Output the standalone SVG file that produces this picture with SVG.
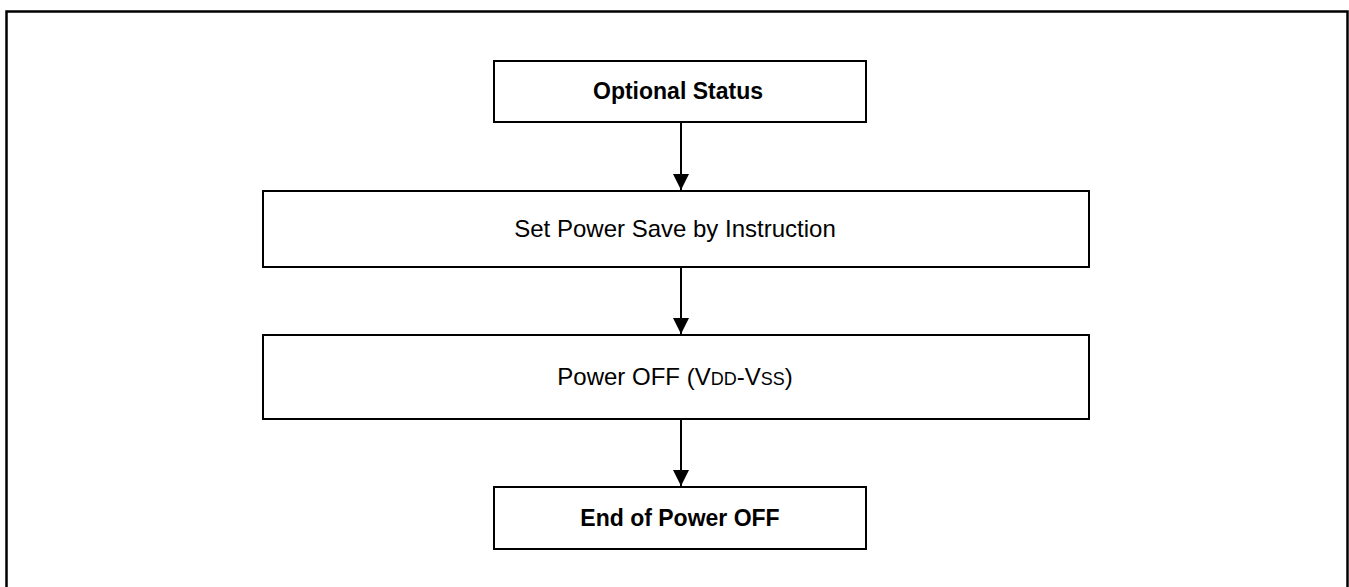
<svg xmlns="http://www.w3.org/2000/svg" width="1349" height="587" viewBox="0 0 1349 587">
<defs>
<style>
.box{fill:#fff;stroke:#000;stroke-width:2}
.t{font-family:"Liberation Sans",Arial,sans-serif;font-size:24px;fill:#000;text-anchor:middle}
.b{font-weight:bold;font-size:23px}
.s{font-size:18px}
.c{stroke:#000;stroke-width:2;fill:none}
</style>
<marker id="ah" markerWidth="16" markerHeight="16" viewBox="0 0 16 16" refX="16" refY="8" orient="auto" markerUnits="userSpaceOnUse">
<path d="M0,0 L16,8 L0,16 Z" fill="#000"/>
</marker>
</defs>
<rect x="0" y="0" width="1349" height="587" fill="#fff"/>
<rect x="6.5" y="11.5" width="1341" height="600" fill="none" stroke="#000" stroke-width="2.5"/>
<g id="n1">
<rect class="box" x="494" y="61" width="372" height="61"/>
<text class="t b" x="678" y="99">Optional Status</text>
</g>
<g id="n2">
<rect class="box" x="263" y="191" width="826" height="76"/>
<text class="t" x="675" y="237">Set Power Save by Instruction</text>
</g>
<g id="n3">
<rect class="box" x="263" y="335" width="826" height="84"/>
<text class="t" x="675" y="385">Power OFF (V<tspan class="s">DD</tspan>-V<tspan class="s">SS</tspan>)</text>
</g>
<g id="n4">
<rect class="box" x="494" y="487" width="372" height="62"/>
<text class="t b" x="680" y="526">End of Power OFF</text>
</g>
<g id="connectors">
<line class="c" x1="681" y1="122" x2="681" y2="190" marker-end="url(#ah)"/>
<line class="c" x1="681" y1="267" x2="681" y2="334" marker-end="url(#ah)"/>
<line class="c" x1="681" y1="419" x2="681" y2="486" marker-end="url(#ah)"/>
</g>
</svg>
